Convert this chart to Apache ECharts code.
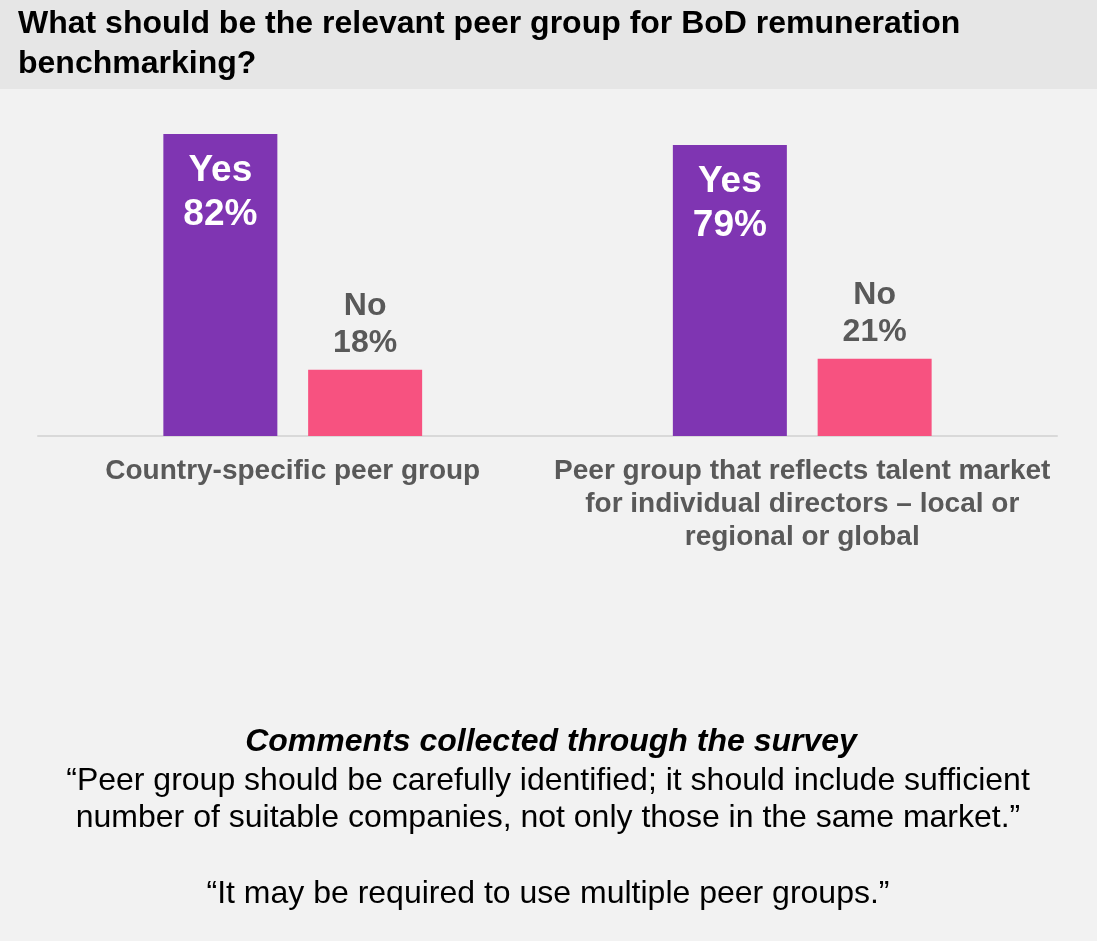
<!DOCTYPE html>
<html>
<head>
<meta charset="utf-8">
<script src="https://cdn.jsdelivr.net/npm/echarts@6/dist/echarts.min.js"></script>
<style>
  html, body { margin: 0; padding: 0; background: #f2f2f2; }
  #chart { width: 1097px; height: 941px; }
</style>
</head>
<body>
<div id="chart"></div>
<script>
// Survey answers per peer-group option
const categories = [
  'Country-specific peer group',
  'Peer group that reflects talent market\nfor individual directors \u2013 local or\nregional or global'
];
const yesValues = [82, 79];
const noValues = [18, 21];

const titleText = 'What should be the relevant peer group for BoD remuneration\nbenchmarking?';
const commentsHeading = 'Comments collected through the survey';
const comments = [
  '\u201cPeer group should be carefully identified; it should include sufficient',
  'number of suitable companies, not only those in the same market.\u201d',
  '',
  '\u201cIt may be required to use multiple peer groups.\u201d'
];

const FONT = 'Liberation Sans, Arial, sans-serif';
const chart = echarts.init(document.getElementById('chart'));

chart.setOption({
  backgroundColor: '#f2f2f2',
  animation: false,
  grid: { left: 38, right: 40, top: 67.7, bottom: 505, containLabel: false },
  xAxis: {
    type: 'category',
    data: categories,
    axisLine: { show: true, lineStyle: { color: '#d9d9d9', width: 2 } },
    axisTick: { show: false },
    axisLabel: {
      interval: 0,
      margin: 19,
      color: '#595959',
      fontFamily: FONT,
      fontWeight: 'bold',
      fontSize: 28,
      lineHeight: 33,
      align: 'center'
    }
  },
  yAxis: {
    type: 'value',
    min: 0,
    max: 100,
    show: false,
    splitLine: { show: false }
  },
  series: [
    {
      name: 'Yes',
      type: 'bar',
      data: yesValues,
      barWidth: 114,
      barGap: '27%',
      itemStyle: { color: '#7f35b2' },
      label: {
        show: true,
        position: 'insideTop',
        distance: 15,
        formatter: p => p.seriesName + '\n' + p.value + '%',
        color: '#ffffff',
        fontFamily: FONT,
        fontWeight: 'bold',
        fontSize: 37,
        lineHeight: 44
      }
    },
    {
      name: 'No',
      type: 'bar',
      data: noValues,
      barWidth: 114,
      itemStyle: { color: '#f75280' },
      label: {
        show: true,
        position: 'top',
        distance: 8,
        formatter: p => p.seriesName + '\n' + p.value + '%',
        color: '#595959',
        fontFamily: FONT,
        fontWeight: 'bold',
        fontSize: 32,
        lineHeight: 37
      }
    }
  ],
  graphic: [
    {
      type: 'rect',
      left: 0, top: 0, z: -1,
      shape: { width: 1097, height: 89 },
      style: { fill: '#e6e6e6' }
    },
    {
      type: 'text',
      left: 18, top: 4,
      style: {
        text: titleText,
        fill: '#000000',
        font: 'bold 32px ' + FONT,
        lineHeight: 40
      }
    },
    {
      type: 'text',
      x: 551, y: 742,
      style: {
        text: commentsHeading,
        fill: '#000000',
        font: 'italic bold 32px ' + FONT,
        align: 'center',
        verticalAlign: 'middle'
      }
    },
    {
      type: 'text',
      x: 548, y: 762,
      style: {
        text: comments.join('\n'),
        fill: '#000000',
        font: '32px ' + FONT,
        lineHeight: 37.7,
        align: 'center',
        verticalAlign: 'top'
      }
    }
  ]
});
</script>
</body>
</html>
